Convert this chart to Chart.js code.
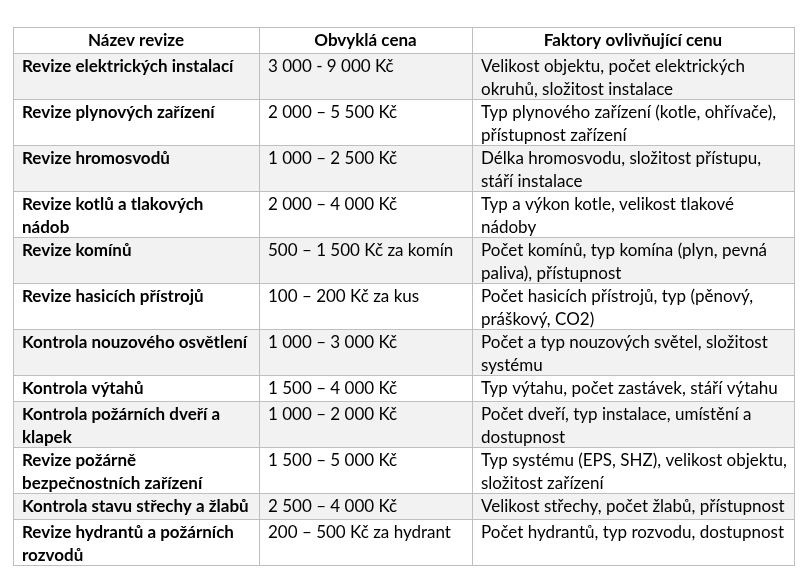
<!DOCTYPE html>
<html>
<head>
<meta charset="utf-8">
<script src="https://cdn.jsdelivr.net/npm/chart.js@4/dist/chart.umd.min.js"></script>
<style>
  html, body { margin: 0; padding: 0; background: #fff; }
  #wrap { width: 803px; height: 581px; }
</style>
</head>
<body>
<div id="wrap"><canvas id="tbl"></canvas></div>
<script>
// table content (\n = where the cell wraps)
const headers = ['Název revize', 'Obvyklá cena', 'Faktory ovlivňující cenu'];

const names = [
  'Revize elektrických instalací',
  'Revize plynových zařízení',
  'Revize hromosvodů',
  'Revize kotlů a tlakových\nnádob',
  'Revize komínů',
  'Revize hasicích přístrojů',
  'Kontrola nouzového osvětlení',
  'Kontrola výtahů',
  'Kontrola požárních dveří a\nklapek',
  'Revize požárně\nbezpečnostních zařízení',
  'Kontrola stavu střechy a žlabů',
  'Revize hydrantů a požárních\nrozvodů'
];

const prices = [
  '3 000 - 9 000 Kč',
  '2 000 – 5 500 Kč',
  '1 000 – 2 500 Kč',
  '2 000 – 4 000 Kč',
  '500 – 1 500 Kč za komín',
  '100 – 200 Kč za kus',
  '1 000 – 3 000 Kč',
  '1 500 – 4 000 Kč',
  '1 000 – 2 000 Kč',
  '1 500 – 5 000 Kč',
  '2 500 – 4 000 Kč',
  '200 – 500 Kč za hydrant'
];

const factors = [
  'Velikost objektu, počet elektrických\nokruhů, složitost instalace',
  'Typ plynového zařízení (kotle, ohřívače),\npřístupnost zařízení',
  'Délka hromosvodu, složitost přístupu,\nstáří instalace',
  'Typ a výkon kotle, velikost tlakové\nnádoby',
  'Počet komínů, typ komína (plyn, pevná\npaliva), přístupnost',
  'Počet hasicích přístrojů, typ (pěnový,\npráškový, CO2)',
  'Počet a typ nouzových světel, složitost\nsystému',
  'Typ výtahu, počet zastávek, stáří výtahu',
  'Počet dveří, typ instalace, umístění a\ndostupnost',
  'Typ systému (EPS, SHZ), velikost objektu,\nsložitost zařízení',
  'Velikost střechy, počet žlabů, přístupnost',
  'Počet hydrantů, typ rozvodu, dostupnost'
];

// layout
const colWidths = [246, 213, 322];
const LINE = 23, FONT = 'Lato, "Open Sans", sans-serif', SIZE = 17;
const GRID = '#bfbfbf', STRIPE = '#f2f2f2';

const rows = [headers].concat(names.map((n, i) => [n, prices[i], factors[i]]));
const rowLines = rows.map(r => Math.max(...r.map(c => c.split('\n').length)));
const rowHeights = rowLines.map(n => 6 + 20 * n);
const rowEdges = [0];
rowHeights.forEach(h => rowEdges.push(rowEdges[rowEdges.length - 1] + h));
const colEdges = [0];
colWidths.forEach(w => colEdges.push(colEdges[colEdges.length - 1] + w));

const tablePlugin = {
  id: 'tablePlugin',
  beforeDatasetsDraw(chart) {
    const { ctx, scales: { x, y } } = chart;
    const px = (v) => x.getPixelForValue(v);
    const py = (v) => y.getPixelForValue(v);
    ctx.save();

    // striped rows (data rows 1, 3, 5 ... shaded)
    rows.forEach((r, i) => {
      if (i > 0 && i % 2 === 1) {
        ctx.fillStyle = STRIPE;
        ctx.fillRect(px(colEdges[0]), py(rowEdges[i]),
          px(colEdges[3]) - px(colEdges[0]), py(rowEdges[i + 1]) - py(rowEdges[i]));
      }
    });

    // grid lines
    ctx.strokeStyle = GRID;
    ctx.lineWidth = 1;
    ctx.beginPath();
    rowEdges.forEach(v => {
      const yy = Math.round(py(v)) + 0.5;
      ctx.moveTo(px(colEdges[0]), yy);
      ctx.lineTo(px(colEdges[3]) + 1, yy);
    });
    colEdges.forEach(v => {
      const xx = Math.round(px(v)) + 0.5;
      ctx.moveTo(xx, py(rowEdges[0]));
      ctx.lineTo(xx, py(rowEdges[rowEdges.length - 1]) + 1);
    });
    ctx.stroke();

    // text
    ctx.fillStyle = '#000';
    ctx.textBaseline = 'middle';
    rows.forEach((r, i) => {
      r.forEach((cell, j) => {
        const bold = i === 0 || j === 0;
        ctx.font = (bold ? 'bold ' : '') + SIZE + 'px ' + FONT;
        const lines = cell.split('\n');
        lines.forEach((ln, k) => {
          const ty = py(rowEdges[i]) + 13.5 + k * LINE;
          if (i === 0) {
            ctx.textAlign = 'center';
            ctx.fillText(ln, (px(colEdges[j]) + px(colEdges[j + 1])) / 2, ty);
          } else {
            ctx.textAlign = 'left';
            ctx.fillText(ln, px(colEdges[j]) + 9, ty);
          }
        });
      });
    });
    ctx.restore();
  }
};

new Chart(document.getElementById('tbl').getContext('2d'), {
  type: 'scatter',
  data: { datasets: [{ data: [] }] },
  options: {
    responsive: true,
    maintainAspectRatio: false,
    animation: false,
    layout: { padding: { left: 13, right: 9, top: 27, bottom: 16 } },
    plugins: { legend: { display: false }, tooltip: { enabled: false } },
    scales: {
      x: { type: 'linear', min: 0, max: colEdges[3], display: false },
      y: { type: 'linear', min: 0, max: rowEdges[rowEdges.length - 1], reverse: true, display: false }
    }
  },
  plugins: [tablePlugin]
});
</script>
</body>
</html>
